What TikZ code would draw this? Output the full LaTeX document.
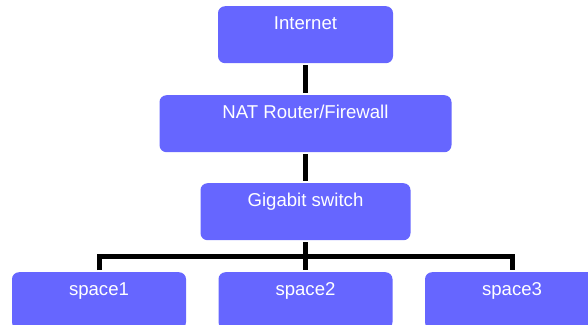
\documentclass[tikz,border=0pt]{standalone}
\usepackage{fontspec}
\setmainfont{Liberation Sans}
\definecolor{boxblue}{HTML}{6666FF}
\begin{document}
\begin{tikzpicture}[x=1pt,y=-1pt,
  box/.style={fill=boxblue, rounded corners=7pt, inner sep=0pt, text=white,
    font=\fontsize{18.6}{20}\selectfont, minimum height=57pt,
    text height=23.5pt, text depth=33.5pt, anchor=north},
  link/.style={line width=5pt, shorten >=2.5pt, shorten <=2pt}]
\useasboundingbox (0,0) rectangle (588,324);
\clip (0,0) rectangle (588,324);
\node[box, minimum width=175pt] (inet) at (305.5,6) {Internet};
\node[box, minimum width=292pt] (nat) at (305.5,95) {NAT Router/Firewall};
\node[box, minimum width=210pt] (gig) at (305.5,183) {Gigabit switch};
\node[box, minimum width=174pt] (s1) at (99,272) {space1};
\node[box, minimum width=174pt] (s2) at (305.5,272) {space2};
\node[box, minimum width=174pt] (s3) at (512,272) {space3};
\coordinate (bus) at (305.5,256.5);
\draw[link] (inet.south) -- (nat.north);
\draw[link] (nat.south) -- (gig.north);
\draw[link] (gig.south) -- (s2.north);
\draw[link] (s1.north) |- (bus) -| (s3.north);
\end{tikzpicture}
\end{document}
